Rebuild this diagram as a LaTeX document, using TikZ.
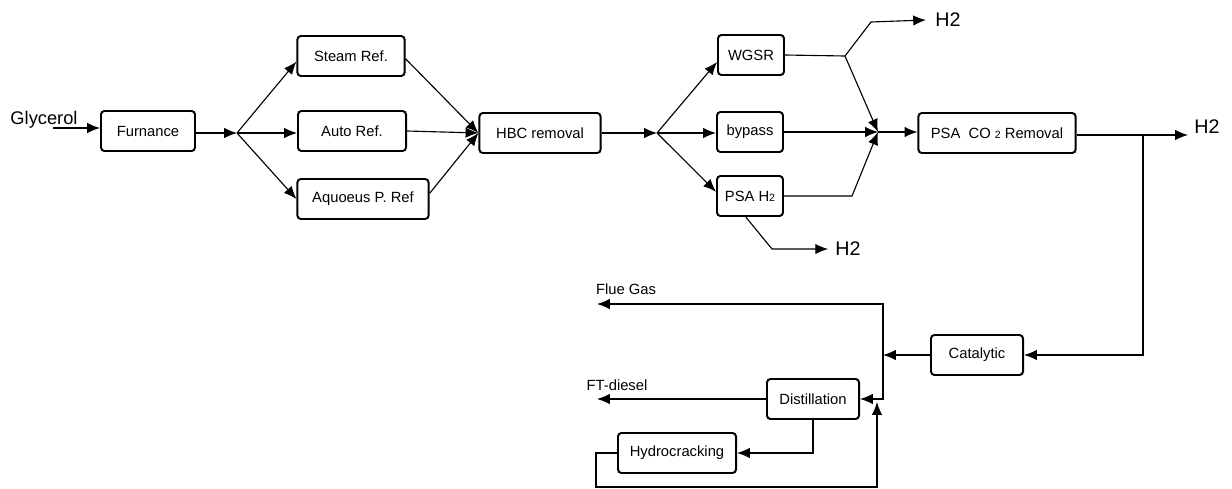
\documentclass[tikz,border=0pt]{standalone}
\usepackage{fontspec}
\setmainfont{Liberation Sans}
\usetikzlibrary{arrows.meta}
\newcommand\subtwo{{\fontsize{7.5}{8}\selectfont 2}}
\begin{document}
\begin{tikzpicture}[x=0.025cm,y=-0.025cm,
  font=\fontsize{10.5}{12}\selectfont,
  blk/.style={draw,line width=1.4pt,rounded corners=2.5pt,minimum height=1cm,inner sep=0pt},
  arr/.style={-{Latex[length=3.2mm,width=2.6mm]},line width=0.8pt},
  ln/.style={line width=0.8pt},
  big/.style={font=\fontsize{14}{16}\selectfont,inner sep=0pt}]
\useasboundingbox (0,0) rectangle (1232,488);

\node[font=\fontsize{13}{15}\selectfont,inner sep=0pt] (gly) at (44,120) {Glycerol};
\node[blk,minimum width=2.35cm] (furn) at (148,131) {Furnance};
\node[blk,minimum width=2.68cm] (steam) at (351,56) {Steam Ref.};
\node[blk,minimum width=2.7cm] (auto) at (352,131) {Auto Ref.};
\node[blk,minimum width=3.28cm] (aqp) at (363,199) {Aquoeus P. Ref};
\node[blk,minimum width=3.03cm] (hbc) at (540,133) {HBC removal};
\node[blk,minimum width=1.65cm] (wgsr) at (751,55) {WGSR};
\node[blk,minimum width=1.65cm] (byp) at (750,132) {bypass};
\node[blk,minimum width=1.65cm] (psah) at (750,196) {PSA H\subtwo};
\node[blk,minimum width=3.93cm] (psaco) at (997,133) {PSA\ \ CO \subtwo\ Removal};
\node[blk,minimum width=2.3cm] (cat) at (977,355) {Catalytic};
\node[blk,minimum width=2.3cm] (dist) at (813,399) {Distillation};
\node[blk,minimum width=2.95cm] (hydro) at (677,453) {Hydrocracking};

\node[big] (h2a) at (948,20) {H2};
\node[big] (h2b) at (848,249) {H2};
\node[big] (h2c) at (1207,127) {H2};
\node[inner sep=0pt] (flue) at (626,289) {Flue Gas};
\node[inner sep=0pt] (ftd) at (617,385) {FT-diesel};

\coordinate (g0) at (53,128);
\coordinate (s1) at (237,133);
\coordinate (s2) at (657,133);
\coordinate (j1) at (845,56);
\coordinate (c2) at (878,132);
\coordinate (j2) at (1143,135);
\coordinate (j3) at (883,355);
\coordinate (fg) at (597,304);
\coordinate (fd) at (597,399);

\draw[arr] (g0) -- (g0 -| furn.west);
\draw[arr] (furn.east |- s1) -- (s1);
\draw[arr] (s1) -- ([yshift=-4pt]steam.west);
\draw[arr] (s1) -- (s1 -| auto.west);
\draw[arr] (s1) -- (aqp.west);
\draw[arr] ([yshift=-2pt]steam.east) -- (hbc.west);
\draw[arr] (auto.east) -- (hbc.west);
\draw[arr] ([yshift=4pt]aqp.east) -- (hbc.west);

\draw[arr] (hbc.east) -- (s2);
\draw[arr] (s2) -- ([yshift=-5pt]wgsr.west);
\draw[arr] (s2) -- (s2 -| byp.west);
\draw[arr] (s2) -- ([yshift=3pt]psah.west);

\draw[ln] (wgsr.east) -- (j1);
\draw[arr] (j1) -- (871,22) -- (h2a.west -| 926,0);
\draw[arr] (j1) -- (c2);
\draw[arr] (byp.east) -- (c2);
\draw[arr] (psah.east) -- (852,196) -- (c2);
\draw[arr] (c2) -- (c2 -| psaco.west);
\draw[arr] ([xshift=-3pt]psah.south) -- (772,249) -- ([xshift=-5pt]h2b.west);

\draw[arr] (psaco.east |- j2) -- (j2 -| 1188,0);
\draw[arr] (j2) -- (j2 |- cat.east) -- (cat.east);
\draw[arr] (cat.west) -- (j3);
\draw[arr] (j3) -- (j3 |- fg) -- (fg);
\draw[arr] (j3) -- (j3 |- dist.east) -- (dist.east);
\draw[arr] (dist.west) -- (fd);
\draw[arr] (dist.south) -- (dist.south |- hydro.east) -- (hydro.east);
\draw[arr] (hydro.west) -- (596,453) -- (596,487) -- (877,487) -- (877,402);
\end{tikzpicture}
\end{document}
